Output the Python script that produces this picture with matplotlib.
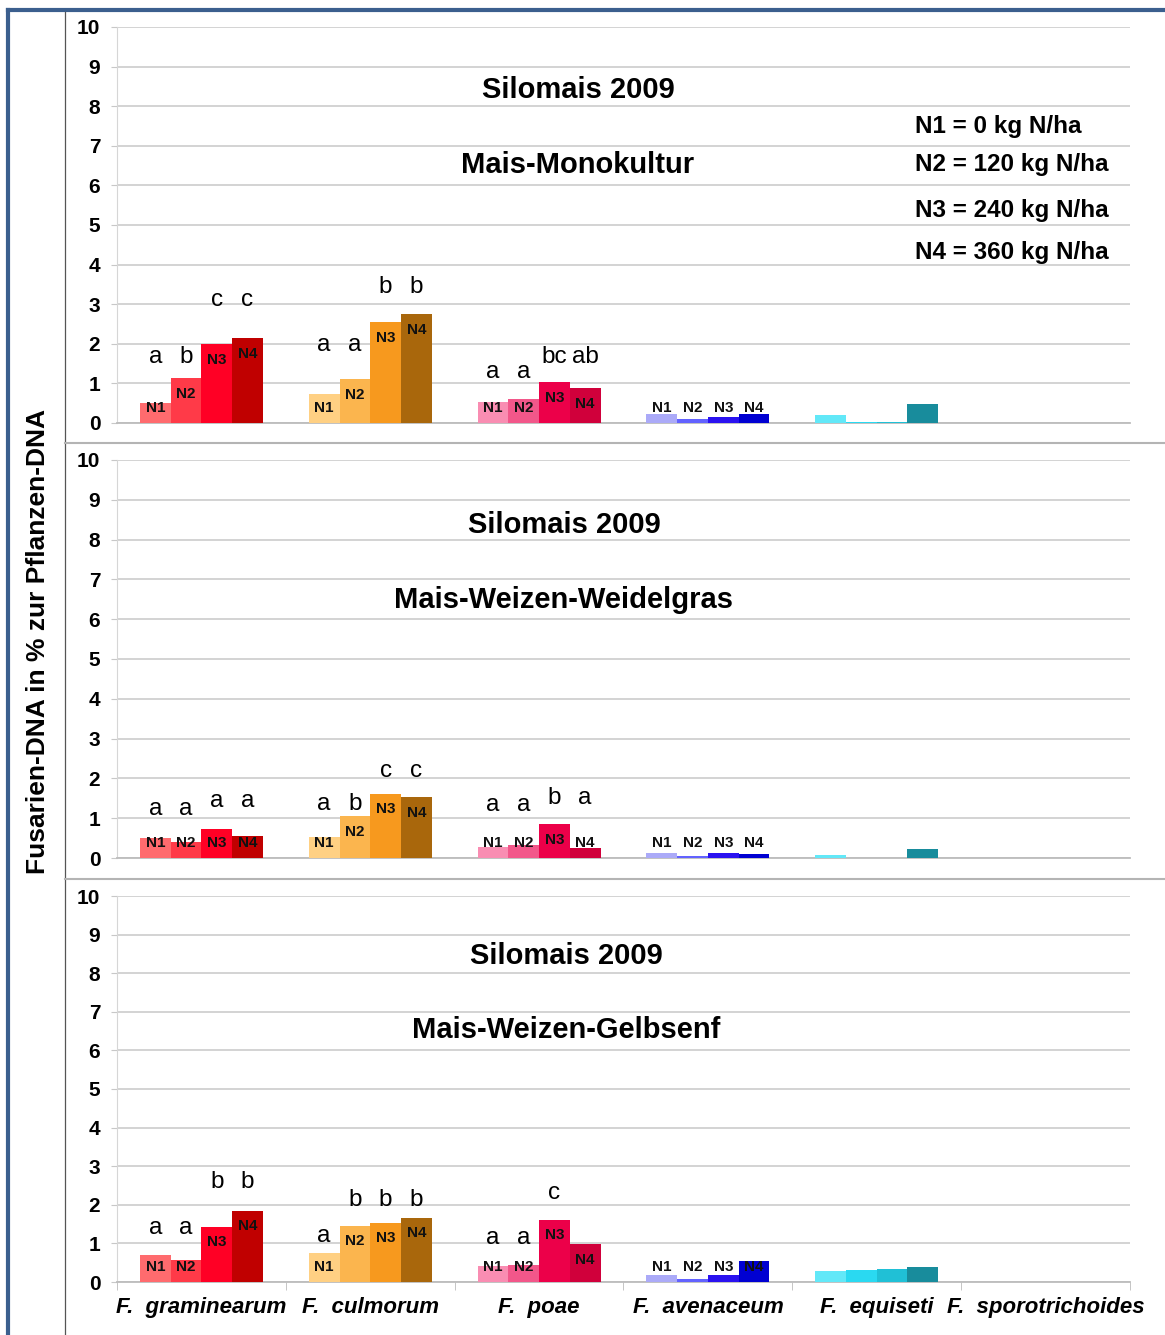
import numpy as np
import matplotlib
matplotlib.use('Agg')
import matplotlib.pyplot as plt
from matplotlib.lines import Line2D

plt.rcParams['font.family'] = ['Liberation Sans', 'DejaVu Sans']

W, H = 1165, 1335

species = ['F.  graminearum', 'F.  culmorum', 'F.  poae', 'F.  avenaceum',
           'F.  equiseti', 'F.  sporotrichoides']
levels = ['N1', 'N2', 'N3', 'N4']
legend_lines = ['N1 = 0 kg N/ha', 'N2 = 120 kg N/ha', 'N3 = 240 kg N/ha', 'N4 = 360 kg N/ha']

colors = [
    ['#ff6b6e', '#ff3a48', '#ff0025', '#c00000'],
    ['#ffd083', '#fbb54e', '#f7991e', '#a9670c'],
    ['#f98db2', '#f2578a', '#ec0049', '#d0003b'],
    ['#abaaf8', '#6262ff', '#2a12f0', '#0000d2'],
    ['#62e8f8', '#2ad9f1', '#20c0d6', '#188c9c'],
    ['#cccccc', '#aaaaaa', '#888888', '#666666'],
]

# values per species (rows) and N level (columns)
mono = [[0.50, 1.13, 2.00, 2.15],
        [0.74, 1.10, 2.55, 2.75],
        [0.53, 0.60, 1.03, 0.89],
        [0.22, 0.11, 0.16, 0.23],
        [0.20, 0.03, 0.03, 0.47],
        [0.0, 0.0, 0.0, 0.0]]
weidel = [[0.50, 0.39, 0.74, 0.56],
          [0.53, 1.05, 1.62, 1.53],
          [0.27, 0.32, 0.86, 0.24],
          [0.13, 0.05, 0.13, 0.11],
          [0.08, 0.01, 0.01, 0.22],
          [0.0, 0.0, 0.0, 0.0]]
senf = [[0.70, 0.56, 1.43, 1.84],
        [0.75, 1.46, 1.54, 1.67],
        [0.41, 0.44, 1.61, 0.98],
        [0.18, 0.08, 0.17, 0.54],
        [0.28, 0.31, 0.34, 0.38],
        [0.0, 0.0, 0.0, 0.0]]

# significance letters (first three species) and the height they sit at
mono_letters = [['a', 'b', 'c', 'c'], ['a', 'a', 'b', 'b'], ['a', 'a', 'bc', 'ab']]
mono_let_y = [[1.67, 1.67, 3.1, 3.1], [1.97, 1.97, 3.43, 3.43], [1.29, 1.29, 1.67, 1.67]]
weidel_letters = [['a', 'a', 'a', 'a'], ['a', 'b', 'c', 'c'], ['a', 'a', 'b', 'a']]
weidel_let_y = [[1.23, 1.23, 1.43, 1.43], [1.36, 1.36, 2.19, 2.19], [1.33, 1.33, 1.5, 1.5]]
senf_letters = [['a', 'a', 'b', 'b'], ['a', 'b', 'b', 'b'], ['a', 'a', 'c', '']]
senf_let_y = [[1.40, 1.40, 2.59, 2.59], [1.19, 2.12, 2.12, 2.12], [1.14, 1.14, 2.31, 2.31]]

panels = [
    (mono, mono_letters, mono_let_y, 'Mais-Monokultur', 423, 27, 578, 90, 165),
    (weidel, weidel_letters, weidel_let_y, 'Mais-Weizen-Weidelgras', 858, 460, 564, 525, 600),
    (senf, senf_letters, senf_let_y, 'Mais-Weizen-Gelbsenf', 1282, 896, 566, 956, 1030),
]

fig = plt.figure(figsize=(W / 100, H / 100), dpi=100)
x0, x1 = 117, 1130
bw = 0.182
offs = (np.arange(4) - 1.5) * bw
idx = np.arange(len(species))

for pi, (vals, lets, lety, subtitle, ybot, ytop, tx, ty1, ty2) in enumerate(panels):
    ax = fig.add_axes([x0 / W, 1 - ybot / H, (x1 - x0) / W, (ybot - ytop) / H])
    vals = np.array(vals)
    for j in range(4):
        ax.bar(idx + offs[j], vals[:, j], width=bw, color=[c[j] for c in colors],
               edgecolor='none', zorder=3)
        # bar labels N1..N4 for first four species
        for i in range(4):
            ax.text(idx[i] + offs[j], max(vals[i, j] - 0.4, 0.38), levels[j],
                    ha='center', va='center', fontsize=11, fontweight='bold',
                    color='#111111', zorder=4)
    for i in range(3):
        for j in range(4):
            ax.text(idx[i] + offs[j], lety[i][j], lets[i][j], ha='center',
                    va='center', fontsize=17.5, zorder=4)
    ax.set_xlim(-0.5, len(species) - 0.5)
    ax.set_ylim(0, 10)
    ax.set_yticks(range(0, 11))
    ax.grid(axis='y', color='#d0d0d0', linewidth=1.3, zorder=0)
    ax.tick_params(axis='y', length=4, color='#c8c8c8', pad=8, labelsize=15)
    for lab in ax.get_yticklabels():
        lab.set_fontweight('bold')
    for s in ['top', 'right']:
        ax.spines[s].set_visible(False)
    ax.spines['left'].set_color('#d6d6d6')
    ax.spines['bottom'].set_color('#bcbcbc')
    ax.spines['bottom'].set_linewidth(1.3)
    if pi == 2:
        ax.set_xticks(np.arange(len(species) + 1) - 0.5, minor=True)
        ax.set_xticks(idx)
        ax.set_xticklabels(species, fontsize=16, fontweight='bold', style='italic')
        ax.tick_params(axis='x', which='major', length=0, pad=11)
        ax.tick_params(axis='x', which='minor', length=6, color='#bcbcbc')
    else:
        ax.set_xticks([])
    fig.text(tx / W, 1 - ty1 / H, 'Silomais 2009', ha='center', va='center',
             fontsize=21, fontweight='bold')
    fig.text(tx / W, 1 - ty2 / H, subtitle, ha='center', va='center',
             fontsize=21, fontweight='bold')

for k, (txt, yy) in enumerate(zip(legend_lines, [126, 165, 210, 253])):
    fig.text(915 / W, 1 - yy / H, txt, ha='left', va='center', fontsize=17.5,
             fontweight='bold')

fig.text(38 / W, 1 - 642 / H, 'Fusarien-DNA in % zur Pflanzen-DNA', rotation=90,
         ha='center', va='center', fontsize=19, fontweight='bold')

# frame lines
blue = '#3b5f8e'
fig.add_artist(Line2D([8 / W, 8 / W], [0, 1 - 10 / H], color=blue, linewidth=3))
fig.add_artist(Line2D([8 / W, 1], [1 - 10 / H, 1 - 10 / H], color=blue, linewidth=3))
fig.add_artist(Line2D([65 / W, 65 / W], [0, 1 - 12 / H], color='#555555', linewidth=0.9))
for yy in [443, 879]:
    fig.add_artist(Line2D([65 / W, 1], [1 - yy / H, 1 - yy / H], color='#b4b4b4',
                          linewidth=1.5))

fig.savefig('out.png', dpi=100)
